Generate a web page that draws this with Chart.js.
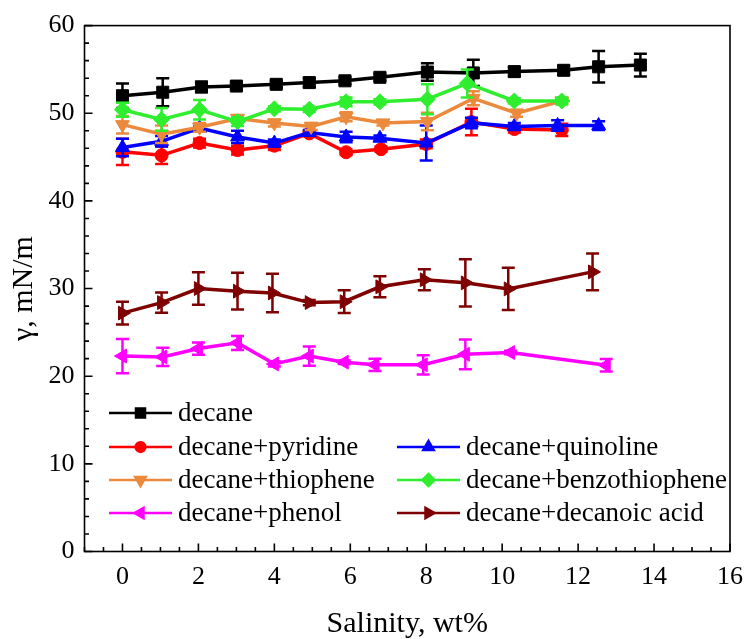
<!DOCTYPE html>
<html lang="en">
<head>
  <meta charset="UTF-8">
  <title>Interfacial tension vs salinity</title>
  <script src="https://cdn.jsdelivr.net/npm/chart.js"></script>
  <style>
    body { margin: 0; background: #fff; }
    #wrap { width: 753px; height: 639px; }
  </style>
</head>
<body>
  <div id="wrap"><canvas id="ift" width="753" height="639"></canvas></div>
  <script>
    // salinity (wt%) / tension (mN/m) / error
    const decaneX = [0, 1.06, 2.08, 3.0, 4.05, 4.92, 5.86, 6.78, 8.03, 9.24, 10.32, 11.62, 12.54, 13.64];
    const decaneY = [52.0, 52.4, 53.0, 53.1, 53.3, 53.5, 53.7, 54.1, 54.7, 54.6, 54.75, 54.9, 55.3, 55.5];
    const decaneErr = [1.4, 1.6, 0.6, 0.4, 0.4, 0.5, 0.4, 0.4, 1.0, 1.5, 0.5, 0.5, 1.8, 1.3];

    const pyridineX = [0, 1.03, 2.03, 3.03, 4.0, 4.92, 5.89, 6.81, 8.0, 9.19, 10.32, 11.57];
    const pyridineY = [45.6, 45.2, 46.6, 45.8, 46.3, 47.7, 45.55, 45.9, 46.5, 49.0, 48.2, 48.1];
    const pyridineErr = [1.5, 1.0, 0.5, 0.5, 0.5, 0.3, 0.3, 0.3, 0.5, 1.5, 0.4, 0.7];

    const quinolineX = [0, 1.03, 2.03, 3.03, 4.0, 4.92, 5.89, 6.78, 8.0, 9.19, 10.32, 11.46, 12.54];
    const quinolineY = [46.1, 46.8, 48.3, 47.3, 46.6, 47.8, 47.3, 47.15, 46.6, 48.9, 48.5, 48.6, 48.6];
    const quinolineErr = [1.0, 0.6, 0.3, 0.7, 0.4, 0.3, 0.6, 0.3, 2.0, 0.6, 0.4, 0.6, 0.5];

    const thiopheneX = [0, 1.03, 2.03, 3.03, 4.0, 4.97, 5.89, 6.86, 8.03, 9.24, 10.38, 11.57];
    const thiopheneY = [48.7, 47.6, 48.4, 49.4, 48.9, 48.5, 49.6, 48.9, 49.05, 51.7, 50.0, 51.4];
    const thiopheneErr = [1.0, 1.0, 0.5, 0.4, 0.4, 0.4, 0.5, 0.3, 1.0, 0.8, 0.4, 0.3];

    const benzoX = [0, 1.03, 2.03, 3.03, 4.0, 4.92, 5.89, 6.78, 8.03, 9.08, 10.32, 11.57];
    const benzoY = [50.4, 49.3, 50.4, 49.05, 50.5, 50.45, 51.3, 51.3, 51.6, 53.4, 51.4, 51.4];
    const benzoErr = [0.8, 1.3, 1.1, 0.5, 0.3, 0.3, 0.5, 0.3, 1.7, 1.6, 0.3, 0.4];

    const phenolX = [0, 1.06, 2.0, 3.03, 4.0, 4.92, 5.84, 6.65, 7.92, 9.03, 10.22, 12.74];
    const phenolY = [22.3, 22.2, 23.15, 23.8, 21.4, 22.3, 21.6, 21.3, 21.3, 22.5, 22.7, 21.25];
    const phenolErr = [1.95, 1.05, 0.7, 0.8, 0.3, 1.1, 0.2, 0.7, 1.1, 1.7, 0.2, 0.7];

    const acidX = [0, 1.03, 2.0, 3.03, 3.95, 4.92, 5.84, 6.78, 7.95, 9.03, 10.16, 12.38];
    const acidY = [27.2, 28.4, 30.0, 29.7, 29.5, 28.4, 28.5, 30.2, 31.0, 30.65, 29.96, 31.9];
    const acidErr = [1.3, 1.15, 1.85, 2.1, 2.2, 0.3, 1.3, 1.2, 1.2, 2.7, 2.4, 2.1];

    const xTicks = [0, 2, 4, 6, 8, 10, 12, 14, 16];
    const yTicks = [0, 10, 20, 30, 40, 50, 60];

    const FONT = "'Liberation Serif', 'Times New Roman', serif";

    function pts(xs, ys) {
      return xs.map((x, i) => ({ x: x, y: ys[i] }));
    }

    function series(label, xs, ys, errs, color, style, rot, radius, idx) {
      return {
        label: label,
        data: pts(xs, ys),
        errors: errs,
        borderColor: color,
        backgroundColor: color,
        borderWidth: 3.5,
        pointStyle: style,
        rotation: rot,
        pointRadius: radius,
        pointBorderWidth: 1,
        pointBackgroundColor: color,
        pointBorderColor: color,
        tension: 0,
        order: 10 - idx
      };
    }

    const datasets = [
      series('decane', decaneX, decaneY, decaneErr, '#000000', 'rect', 0, 8.5, 0),
      series('decane+pyridine', pyridineX, pyridineY, pyridineErr, '#ff0000', 'circle', 0, 6.5, 1),
      series('decane+quinoline', quinolineX, quinolineY, quinolineErr, '#0000ff', 'triangle', 0, 8, 2),
      series('decane+thiophene', thiopheneX, thiopheneY, thiopheneErr, '#eb8a3c', 'triangle', 180, 8, 3),
      series('decane+benzothiophene', benzoX, benzoY, benzoErr, '#2eee2e', 'rectRot', 0, 8, 4),
      series('decane+phenol', phenolX, phenolY, phenolErr, '#ff00ff', 'triangle', 270, 8, 5),
      series('decane+decanoic acid', acidX, acidY, acidErr, '#7f0000', 'triangle', 90, 8, 6)
    ];

    // error bars, drawn right after their own series
    const errorBars = {
      id: 'errorBars',
      afterDatasetDraw(chart, args) {
        const ds = chart.data.datasets[args.index];
        if (!ds.errors) return;
        const ctx = chart.ctx;
        const ys = chart.scales.y;
        ctx.save();
        ctx.strokeStyle = ds.borderColor;
        ctx.lineWidth = 2.5;
        args.meta.data.forEach((pt, i) => {
          const e = ds.errors[i];
          const v = ds.data[i].y;
          const top = ys.getPixelForValue(v + e);
          const bot = ys.getPixelForValue(v - e);
          const x = pt.x;
          ctx.beginPath();
          ctx.moveTo(x, top); ctx.lineTo(x, bot);
          ctx.moveTo(x - 6.5, top); ctx.lineTo(x + 6.5, top);
          ctx.moveTo(x - 6.5, bot); ctx.lineTo(x + 6.5, bot);
          ctx.stroke();
        });
        ctx.restore();
      }
    };

    // closed frame with inward major and minor ticks
    const frame = {
      id: 'frame',
      afterDraw(chart) {
        const ctx = chart.ctx;
        const a = chart.chartArea;
        const xs = chart.scales.x, ys = chart.scales.y;
        ctx.save();
        ctx.strokeStyle = '#000';
        ctx.lineWidth = 1.6;
        ctx.strokeRect(a.left, a.top, a.right - a.left, a.bottom - a.top);
        ctx.beginPath();
        for (let v = -1; v <= 16.001; v += 0.5) {
          const px = xs.getPixelForValue(v);
          const len = (Math.abs(v % 2) < 1e-6) ? 8 : 4.5;
          ctx.moveTo(px, a.bottom); ctx.lineTo(px, a.bottom - len);
        }
        for (let v = 0; v <= 60; v += 2) {
          const py = ys.getPixelForValue(v);
          const len = (v % 10 === 0) ? 8 : 4.5;
          ctx.moveTo(a.left, py); ctx.lineTo(a.left + len, py);
        }
        ctx.stroke();
        ctx.restore();
      }
    };

    // legend: decane alone on the first row, then two columns
    const legendBox = {
      id: 'legendBox',
      afterDraw(chart) {
        const ctx = chart.ctx;
        const slots = [[0, 0, 0], [1, 0, 1], [2, 1, 1], [3, 0, 2], [4, 1, 2], [5, 0, 3], [6, 1, 3]];
        const colX = [109, 397];
        const rowY = [413, 447, 480, 513];
        ctx.save();
        ctx.font = '27px ' + FONT;
        ctx.textBaseline = 'middle';
        ctx.fillStyle = '#000';
        slots.forEach(([di, c, r]) => {
          const ds = chart.data.datasets[di];
          const x0 = colX[c], y = rowY[r];
          ctx.strokeStyle = ds.borderColor;
          ctx.lineWidth = 2.5;
          ctx.beginPath();
          ctx.moveTo(x0, y); ctx.lineTo(x0 + 63, y);
          ctx.stroke();
          Chart.helpers.drawPoint(ctx, {
            pointStyle: ds.pointStyle, rotation: ds.rotation,
            radius: ds.pointRadius * 0.75, borderWidth: 1
          }, x0 + 31.5, y);
          ctx.fillStyle = ds.borderColor;
          ctx.fill();
          ctx.fillStyle = '#000';
          ctx.fillText(ds.label, x0 + 69, y + 1);
        });
        ctx.restore();
      }
    };

    new Chart(document.getElementById('ift'), {
      type: 'line',
      data: { datasets: datasets },
      options: {
        responsive: false,
        animation: false,
        layout: { padding: { top: 23, right: 14, left: 0, bottom: 0 } },
        plugins: { legend: { display: false }, tooltip: { enabled: false } },
        scales: {
          x: {
            type: 'linear',
            min: -1,
            max: 16,
            afterBuildTicks: s => { s.ticks = xTicks.map(v => ({ value: v })); },
            afterFit: s => { s.height = 87.5; },
            grid: { display: false, drawTicks: false },
            border: { display: false },
            ticks: { color: '#000', font: { family: FONT, size: 26 }, padding: 10, maxRotation: 0, autoSkip: false },
            title: { display: true, text: 'Salinity, wt%', color: '#000', font: { family: FONT, size: 30 }, padding: { top: 0, bottom: -3 } }
          },
          y: {
            min: 0,
            max: 60,
            afterBuildTicks: s => { s.ticks = yTicks.map(v => ({ value: v })); },
            afterFit: s => { s.width = 84.5; },
            grid: { display: false, drawTicks: false },
            border: { display: false },
            ticks: { color: '#000', font: { family: FONT, size: 26 }, padding: 10 },
            title: { display: true, text: 'γ, mN/m', color: '#000', font: { family: FONT, size: 30 }, padding: { top: 6, bottom: 0 } }
          }
        }
      },
      plugins: [errorBars, frame, legendBox]
    });
  </script>
</body>
</html>
